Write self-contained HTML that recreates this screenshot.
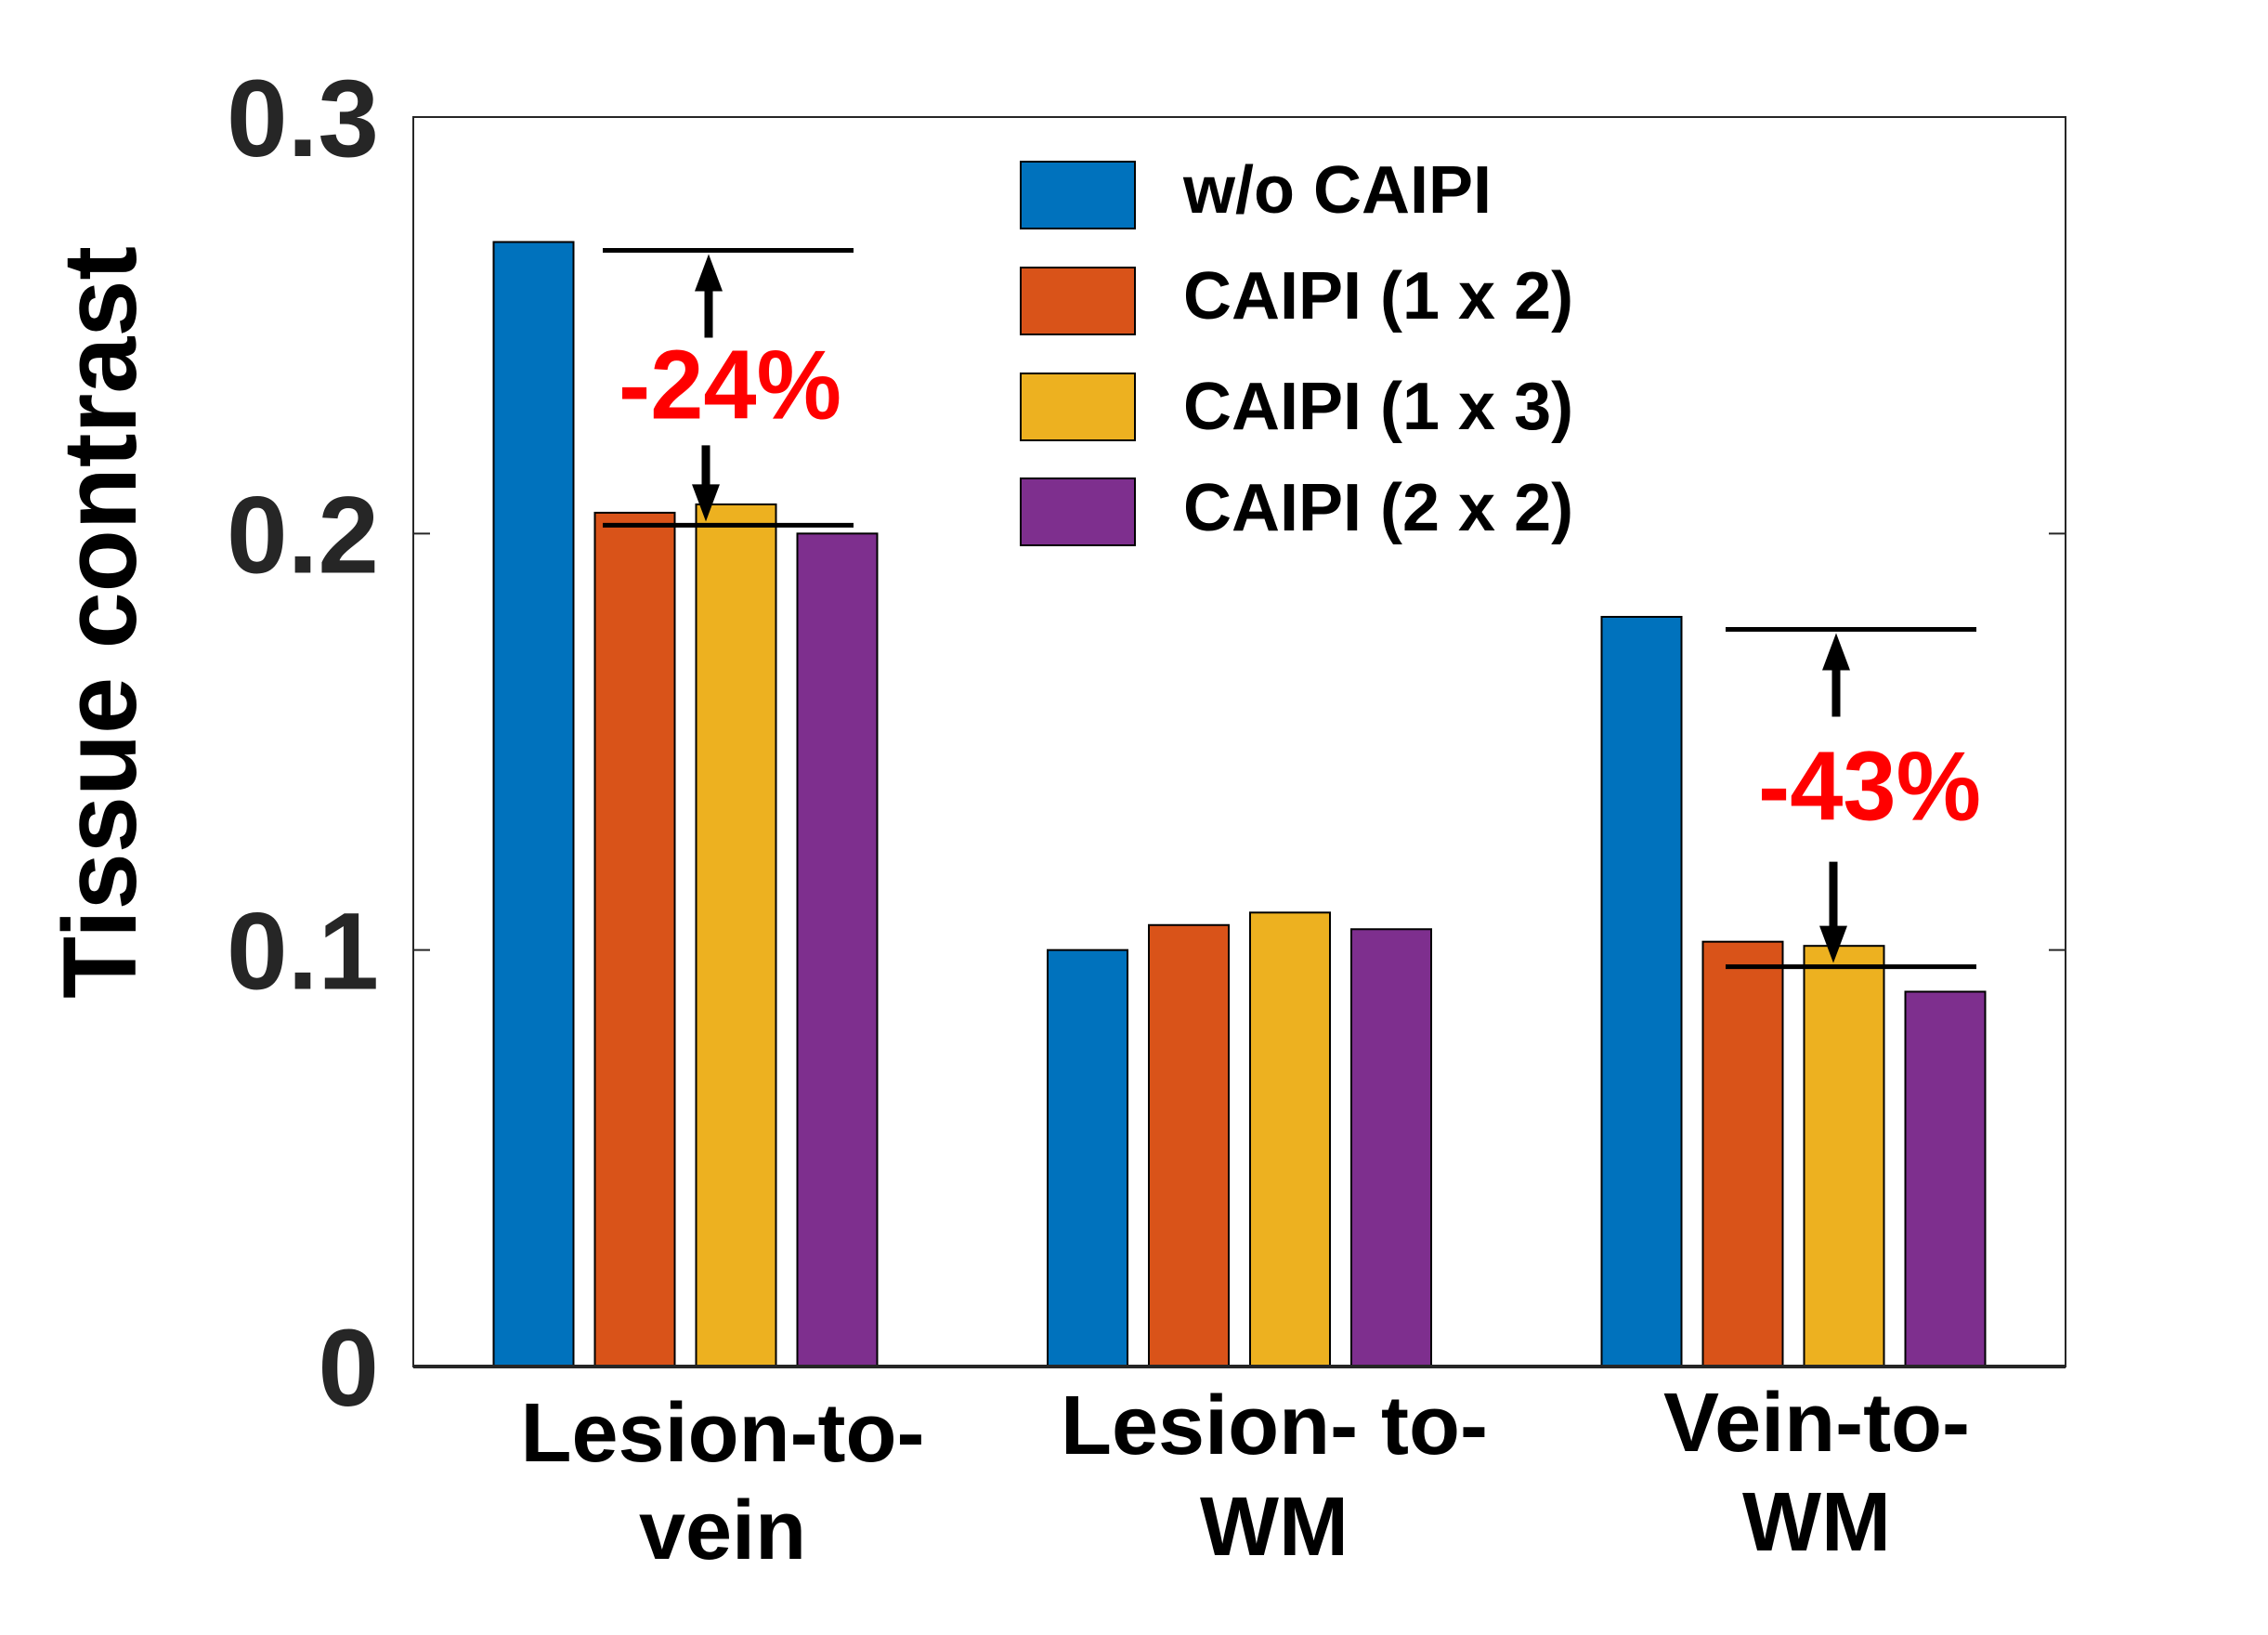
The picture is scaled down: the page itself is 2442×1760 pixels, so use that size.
<!DOCTYPE html>
<html><head><meta charset="utf-8"><style>
html,body{margin:0;padding:0;background:#fff;}
svg{display:block;font-family:"Liberation Sans",Arial,sans-serif;font-weight:bold;}
</style></head><body>
<svg id="chart" width="2442" height="1760" viewBox="0 0 2442 1760">
<rect x="0" y="0" width="2442" height="1760" fill="#fff"/>
<g id="bars"></g>
<g id="axes"></g>
<g id="annot"></g>
<g id="legend"></g>
</svg>
<script>
const categories = [["Lesion-to-","vein"],["Lesion- to-","WM"],["Vein-to-","WM"]];
const seriesNames = ["w/o CAIPI","CAIPI (1 x 2)","CAIPI (1 x 3)","CAIPI (2 x 2)"];
const woCaipi = [0.27, 0.10, 0.18];
const caipi12 = [0.205, 0.106, 0.102];
const caipi13 = [0.207, 0.109, 0.101];
const caipi22 = [0.200, 0.105, 0.090];
const yTicks = [0, 0.1, 0.2, 0.3];
const yTickLabels = ["0","0.1","0.2","0.3"];
const annotations = [
  {group:0, top:0.268, bottom:0.202, label:"-24%"},
  {group:2, top:0.177, bottom:0.096, label:"-43%"}
];
const colors = ["#0072BD","#D95319","#EDB120","#7E2F8E"];
const series = [woCaipi, caipi12, caipi13, caipi22];

const NS = "http://www.w3.org/2000/svg";
const L=445, R=2224, T=126, B=1471;
const yMax = 0.3;
function y(v){ return B - (v/yMax)*(B-T); }
function xc(i){ return 738 + 596.5*i; }
const step=109, bw=86;
function mk(tag, attrs, parent){ const e=document.createElementNS(NS,tag); for(const k in attrs) e.setAttribute(k,attrs[k]); parent.appendChild(e); return e; }

const gb=document.getElementById('bars');
series.forEach((s,si)=>{
  s.forEach((v,ci)=>{
    const x = xc(ci) + (si-1.5)*step - bw/2;
    const r = mk('rect',{x:x,y:y(v),width:bw,height:B-y(v),fill:colors[si],stroke:'#000','stroke-width':2},gb);
    
    
  });
});

const ga=document.getElementById('axes');
const frame = mk('rect',{x:L,y:T,width:R-L,height:B-T,fill:'none',stroke:'#262626','stroke-width':2},ga);


mk('line',{x1:L,y1:B,x2:R,y2:B,stroke:'#262626','stroke-width':4},ga);
yTicks.forEach((t,i)=>{
  mk('line',{x1:L,y1:y(t),x2:L+18,y2:y(t),stroke:'#262626','stroke-width':2},ga);
  mk('line',{x1:R,y1:y(t),x2:R-18,y2:y(t),stroke:'#262626','stroke-width':2},ga);
  const tx = mk('text',{x:408,y:y(t)+42,'text-anchor':'end','font-size':118,fill:'#262626'},ga);
  tx.textContent = yTickLabels[i];
  
  
});
const yl = mk('text',{x:0,y:0,transform:'translate(146,670) rotate(-90)','text-anchor':'middle','font-size':112,fill:'#000',textLength:810,lengthAdjust:'spacingAndGlyphs'},ga);
yl.textContent = "Tissue contrast";


const labelOffsets=[[1573,1678],[1565,1674],[1562,1669]];
const labelX=[778,1372,1956];
categories.forEach((c,i)=>{
  c.forEach((line,j)=>{
    const t = mk('text',{x:labelX[i],y:labelOffsets[i][j],'text-anchor':'middle','font-size':90,fill:'#000'},ga);
    t.textContent=line;
    
    
  });
});

const gn=document.getElementById('annot');
const downShaft=[86,113];
const lineShift=[0,16];
annotations.forEach((a,k)=>{
  const cx = xc(a.group);
  const x1 = cx - 89 + lineShift[k], x2 = cx + 181 + lineShift[k];
  const yt=y(a.top), yb=y(a.bottom);
  mk('line',{x1:x1,y1:yt,x2:x2,y2:yt,stroke:'#000','stroke-width':5},gn);
  mk('line',{x1:x1,y1:yb,x2:x2,y2:yb,stroke:'#000','stroke-width':5},gn);
  const ax = cx + 25 + (k==1?21:0);
  mk('line',{x1:ax,y1:yt+94,x2:ax,y2:yt+40,stroke:'#000','stroke-width':9},gn);
  mk('polygon',{points:`${ax},${yt+4} ${ax-15},${yt+44} ${ax+15},${yt+44}`,fill:'#000'},gn);
  const dx = ax-3;
  mk('line',{x1:dx,y1:yb-downShaft[k],x2:dx,y2:yb-40,stroke:'#000','stroke-width':9},gn);
  mk('polygon',{points:`${dx},${yb-4} ${dx-15},${yb-44} ${dx+15},${yb-44}`,fill:'#000'},gn);
  const t = mk('text',{x:cx+48+(k==1?34:0),y:(k==0?yt+181:yt+205),'text-anchor':'middle','font-size':106,fill:'#FF0000',textLength:(k==0?240:240),lengthAdjust:'spacingAndGlyphs'},gn);
  t.textContent=a.label;
  
  
});

const gl=document.getElementById('legend');
const legY=[174,288,402,515];
const legBase=[229,343,462,571];
seriesNames.forEach((n,i)=>{
  const s = mk('rect',{x:1099,y:legY[i],width:123,height:72,fill:colors[i],stroke:'#000','stroke-width':2},gl);
  
  
  const t = mk('text',{x:1274,y:legBase[i],'font-size':72,fill:'#000'},gl);
  t.textContent=n;
  
  
});
</script>
</body></html>
